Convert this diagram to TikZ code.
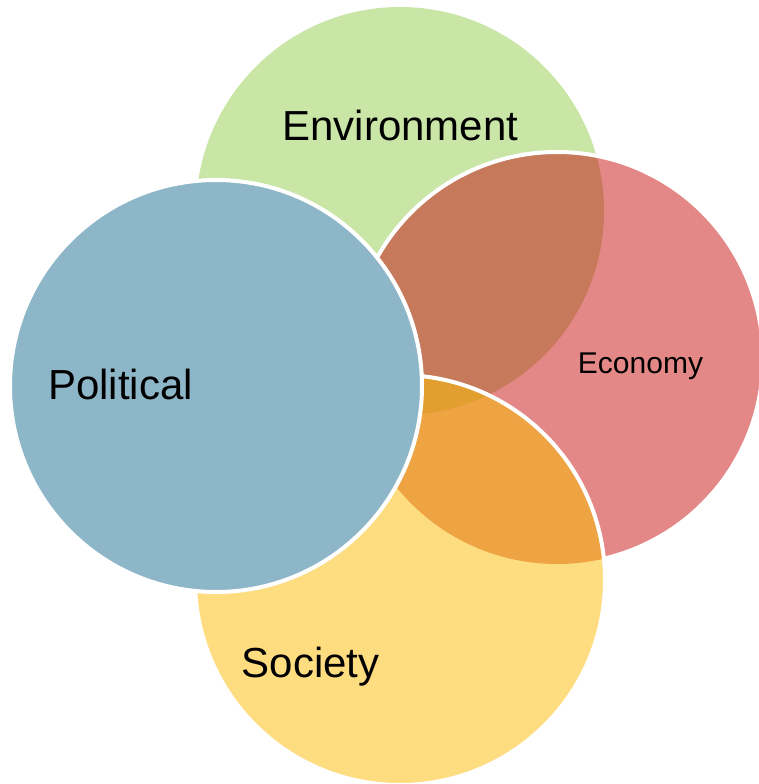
\documentclass[tikz,border=0pt]{standalone}
\usepackage{fontspec}
\setmainfont{Liberation Sans}
\definecolor{envgreen}{HTML}{C9E6A7}
\definecolor{ecored}{HTML}{E38886}
\definecolor{envecobrown}{HTML}{C77A5B}
\definecolor{socyellow}{HTML}{FEDC80}
\definecolor{ecosocorange}{HTML}{EFA444}
\definecolor{tripleorange}{HTML}{E29F30}
\definecolor{polblue}{HTML}{8EB6C9}
\tikzset{
  ringborder/.style={draw=white, line width=4pt},
  biglabel/.style={anchor=base, inner sep=0pt, font=\fontsize{42pt}{50pt}\selectfont},
  smalllabel/.style={anchor=base, inner sep=0pt, font=\fontsize{30pt}{36pt}\selectfont}
}
\begin{document}
\begin{tikzpicture}[x=1pt,y=-1pt]
\useasboundingbox (0,0) rectangle (759,784);
\coordinate (E) at (400,211);
\coordinate (C) at (557,358);
\coordinate (S) at (400,580);
\coordinate (P) at (216,386);
% Environment
\fill[envgreen] (E) circle[radius=204pt];
% Economy
\fill[ecored] (C) circle[radius=206pt];
\begin{scope}
  \clip (E) circle[radius=204pt];
  \fill[envecobrown] (C) circle[radius=206pt];
\end{scope}
\draw[ringborder] (C) circle[radius=206pt];
% Society
\fill[socyellow] (S) circle[radius=205pt];
\begin{scope}
  \clip (C) circle[radius=206pt];
  \fill[ecosocorange] (S) circle[radius=205pt];
  \clip (E) circle[radius=204pt];
  \fill[tripleorange] (S) circle[radius=205pt];
\end{scope}
\draw[ringborder] (S) circle[radius=205pt];
% Political
\fill[polblue] (P) circle[radius=206pt];
\draw[ringborder] (P) circle[radius=206pt];
% Labels
\node[biglabel] (envlabel) at (400.5,140) {Environment};
\node[biglabel] (pollabel) at (120.5,399) {Political};
\node[biglabel] (soclabel) at (310.5,677) {Society};
\node[smalllabel] (ecolabel) at (640.5,373) {Economy};
\end{tikzpicture}
\end{document}
